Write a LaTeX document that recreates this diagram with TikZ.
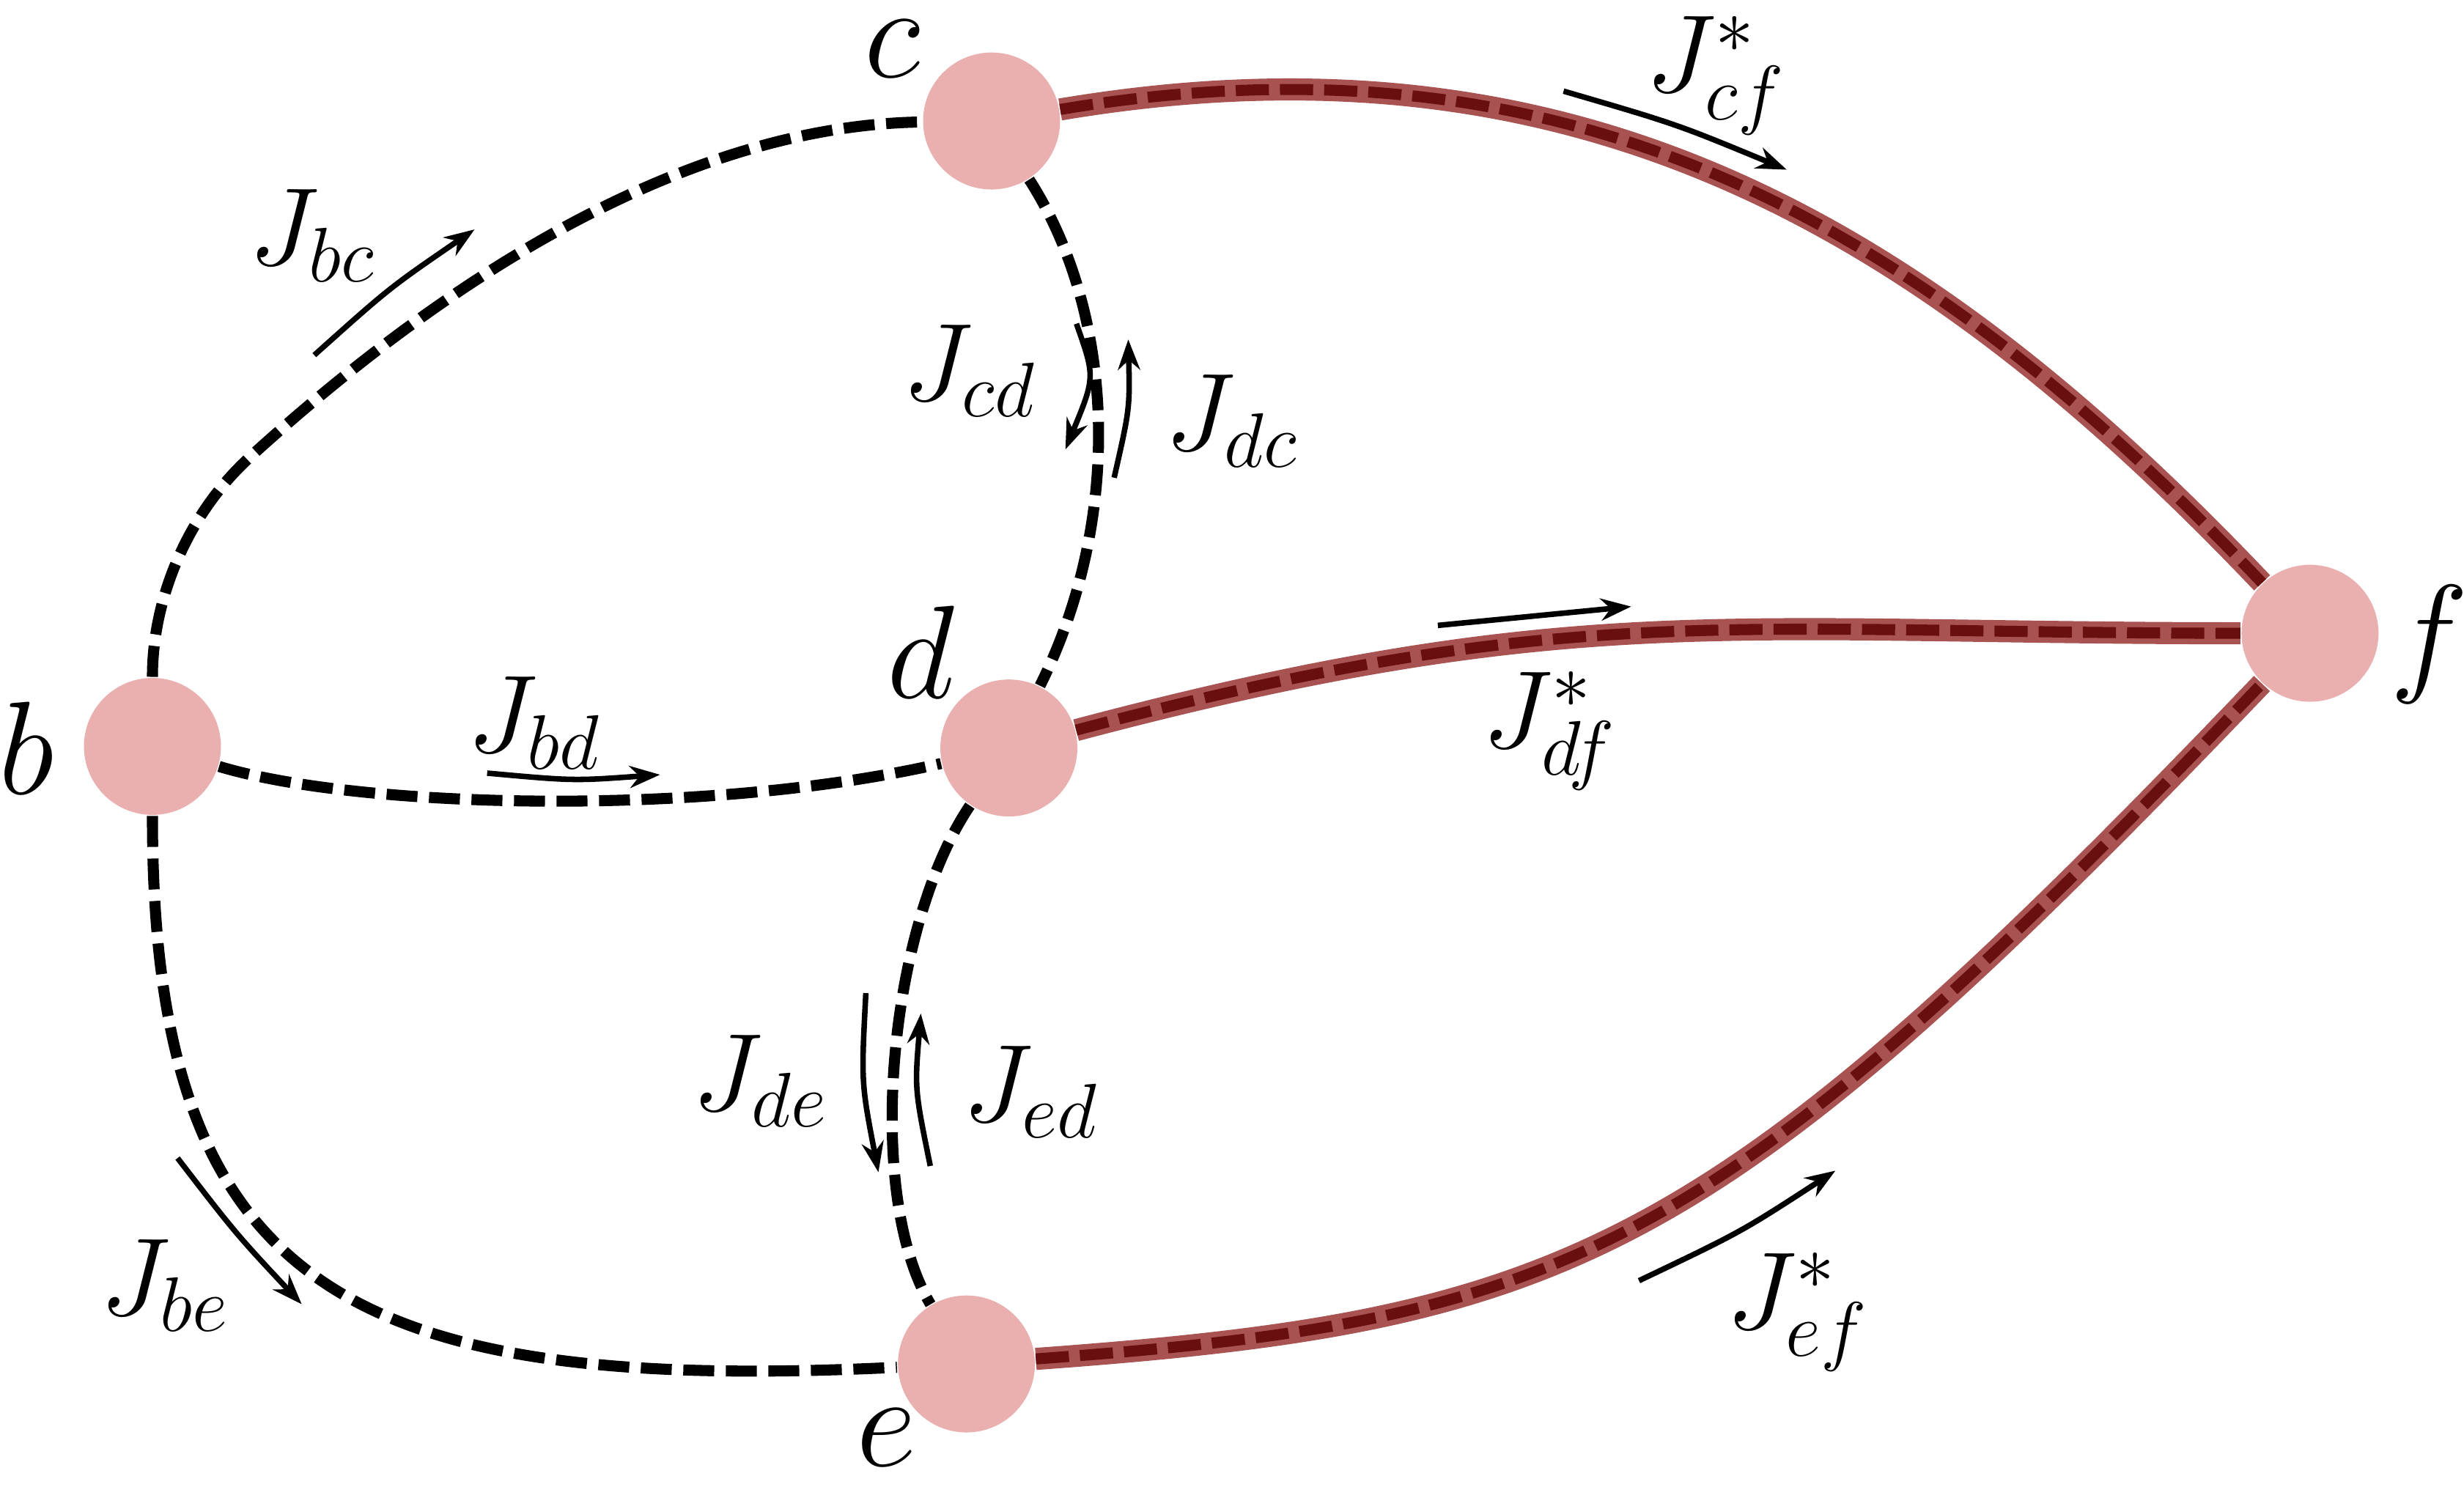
\RequirePackage{fix-cm}
\documentclass[tikz,border=0pt]{standalone}
\usetikzlibrary{arrows.meta,backgrounds}
\definecolor{nodepink}{RGB}{234,175,175}
\definecolor{bandred}{RGB}{168,82,82}
\definecolor{banddark}{RGB}{105,15,15}
\tikzset{
  vtx/.style={circle, fill=nodepink, minimum size=24.8pt, inner sep=0pt},
  vlabel/.style={inner sep=0pt, font=\fontsize{24}{28}\selectfont},
  flabel/.style={inner sep=0pt, font=\fontsize{20}{24}\selectfont},
  edgeb/.style={line width=2pt, dash pattern=on 5.6pt off 2.1pt},
  redband/.style={line width=2pt, draw=banddark, dash pattern=on 6pt off 2pt,
    preaction={draw=bandred, line width=4pt, solid}},
  flux/.style={line width=1pt, -{Stealth[length=5.5pt,width=4pt]}},
}
\begin{document}
\begin{tikzpicture}[x=0.1mm,y=-0.1mm]
\useasboundingbox (0,0) rectangle (1568,946);
% vertices
\node[vtx] (b) at (97,475) {};
\node[vtx] (c) at (631,77) {};
\node[vtx] (d) at (642,476) {};
\node[vtx] (e) at (615,868) {};
\node[vtx] (f) at (1470,403) {};
% vertex labels
\node[vlabel] (lb) at (17,476) {$b$};
\node[vlabel] (lc) at (568,31) {$c$};
\node[vlabel] (ld) at (586,415) {$d$};
\node[vlabel] (le) at (564,915) {$e$};
\node[vlabel] (lf) at (1546,410) {$f$};
% edges
\coordinate (bcm) at (160,290);
\begin{scope}[on background layer]
\draw[edgeb] (b) .. controls (97,380) and (120,326) .. (bcm)
                 .. controls (260,199) and (420,80) .. (c);
\draw[edgeb] (b) .. controls (230,515) and (450,520) .. (d);
\draw[edgeb] (b) .. controls (97,820) and (221,887) .. (e);
\draw[edgeb] (c) .. controls (710,200) and (715,330) .. (d);
\draw[edgeb] (d) .. controls (565,590) and (550,760) .. (e);
\draw[redband] (c) .. controls (1000,15) and (1220,140) .. (f);
\draw[redband] (d) .. controls (1000,381) and (1100,403) .. (f);
\draw[redband] (e) .. controls (1000,840) and (1090,800) .. (f);
\end{scope}
% flux arrows
\coordinate (bc1) at (200,226); \coordinate (bc2) at (302,146);
\draw[flux] (bc1) .. controls (248,183) .. (bc2);
\coordinate (bd1) at (310,492); \coordinate (bd2) at (420,493);
\draw[flux] (bd1) .. controls (365,497) .. (bd2);
\coordinate (be1) at (113,737); \coordinate (be2) at (192,830);
\draw[flux] (be1) .. controls (150,785) .. (be2);
\coordinate (cd1) at (685,206); \coordinate (cd2) at (678,286);
\draw[flux] (cd1) .. controls (697,240) .. (cd2);
\coordinate (dc1) at (709,304); \coordinate (dc2) at (718,216);
\draw[flux] (dc1) .. controls (719,260) .. (dc2);
\coordinate (de1) at (551,632); \coordinate (de2) at (559,746);
\draw[flux] (de1) .. controls (548,689) .. (de2);
\coordinate (ed1) at (592,742); \coordinate (ed2) at (586,645);
\draw[flux] (ed1) .. controls (582,693) .. (ed2);
\coordinate (cf1) at (995,58); \coordinate (cf2) at (1137,108);
\draw[flux] (cf1) .. controls (1067,79) .. (cf2);
\coordinate (df1) at (915,398); \coordinate (df2) at (1038,386);
\draw[flux] (df1) -- (df2);
\coordinate (ef1) at (1043,815); \coordinate (ef2) at (1168,745);
\draw[flux] (ef1) .. controls (1108,784) .. (ef2);
% flux labels
\node[flabel] (tbc) at (199,150) {$J_{bc}$};
\node[flabel] (tbd) at (340,460) {$J_{bd}$};
\node[flabel] (tbe) at (105,818) {$J_{be}$};
\node[flabel] (tcd) at (617,236) {$J_{cd}$};
\node[flabel] (tdc) at (784,268) {$J_{dc}$};
\node[flabel] (tde) at (484,688) {$J_{de}$};
\node[flabel] (ted) at (656,695) {$J_{ed}$};
\node[flabel] (tcf) at (1092,48) {$J^*_{cf}$};
\node[flabel] (tdf) at (986,465) {$J^*_{df}$};
\node[flabel] (tef) at (1144,835) {$J^*_{ef}$};
\end{tikzpicture}
\end{document}
